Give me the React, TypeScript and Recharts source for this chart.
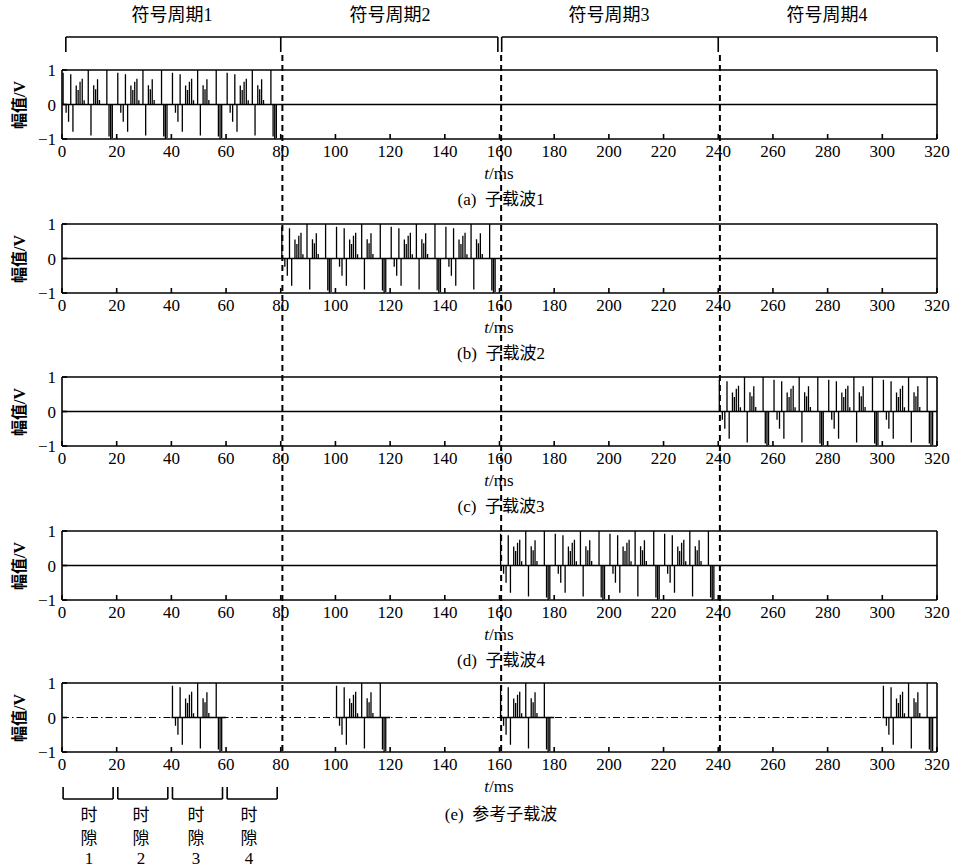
import React from "react"
import { LineChart, Line, XAxis, YAxis, ReferenceLine } from "recharts"

// one 20 ms slot of the subcarrier waveform (offset in ms, amplitude in V)
const PATTERN_OFFSETS = [0.4, 1.5, 2.4, 3.2, 4.0, 5.2, 5.9, 6.6, 7.4, 8.1, 9.6, 10.6, 11.6, 12.3, 13.0, 13.7, 16.4, 17.2, 17.8, 18.4]
const PATTERN_VALUES = [0.92, -0.24, -0.5, 0.88, -0.79, 0.55, 0.42, 0.66, 0.75, 0.12, 1, -0.9, 0.56, 0.44, 0.73, 0.13, 1, -0.93, -1, -0.97]
const SLOT_MS = 20

// slot start times (ms) where each subcarrier is active
const SUBCARRIER_SLOTS = [
  [0, 20, 40, 60],
  [80, 100, 120, 140],
  [240, 260, 280, 300],
  [160, 180, 200, 220],
]
const REFERENCE_SLOTS = [40, 100, 160, 300]

const CAPTIONS = ["(a)  子载波1", "(b)  子载波2", "(c)  子载波3", "(d)  子载波4", "(e)  参考子载波"]
const PERIOD_LABELS = ["符号周期1", "符号周期2", "符号周期3", "符号周期4"]
const SLOT_LABELS = ["1", "2", "3", "4"]

const X_TICKS = [0, 20, 40, 60, 80, 100, 120, 140, 160, 180, 200, 220, 240, 260, 280, 300, 320]
const Y_TICKS = [-1, 0, 1]
const PERIOD_BOUNDS = [80, 160, 240]

const SERIF = "'Liberation Serif', 'Noto Sans CJK SC', serif"
const PLOT_TOPS = [70, 224, 377, 531, 683]
const PLOT_H = 69

type Pt = { t: number; v: number | null }

function buildSignal(slots: number[], continuous: boolean): Pt[] {
  const pts: Pt[] = []
  if (continuous) pts.push({ t: 0, v: 0 })
  slots.forEach((s, i) => {
    if (!continuous && i > 0) pts.push({ t: s - 0.01, v: null })
    if (!continuous) pts.push({ t: s, v: 0 })
    PATTERN_OFFSETS.forEach((o, k) => {
      const t = s + o
      pts.push({ t, v: 0 }, { t, v: PATTERN_VALUES[k] }, { t, v: 0 })
    })
    if (!continuous) pts.push({ t: s + SLOT_MS, v: 0 })
  })
  if (continuous) pts.push({ t: 320, v: 0 })
  return pts
}

const fmtY = (v: number) => (v < 0 ? `−${-v}` : `${v}`)

function Subplot({ data, top, dashedZero }: { data: Pt[]; top: number; dashedZero: boolean }) {
  return (
    <div style={{ position: "absolute", left: 0, top: top - 10 }}>
      <LineChart width={954} height={10 + PLOT_H + 30} data={data} margin={{ top: 9, right: 16, bottom: 0, left: 0 }}>
        <XAxis
          xAxisId="b"
          dataKey="t"
          type="number"
          domain={[0, 320]}
          ticks={X_TICKS}
          interval={0}
          height={30}
          tickSize={-5}
          tickMargin={11}
          stroke="#000"
          strokeWidth={1.6}
          tick={{ fill: "#000", fontSize: 17, fontFamily: SERIF }}
          allowDataOverflow
        />
        <XAxis
          xAxisId="t"
          orientation="top"
          dataKey="t"
          type="number"
          domain={[0, 320]}
          ticks={X_TICKS}
          interval={0}
          height={1}
          tick={false}
          tickSize={-5}
          stroke="#000"
          strokeWidth={1.6}
        />
        <YAxis
          yAxisId="l"
          type="number"
          domain={[-1, 1]}
          ticks={Y_TICKS}
          interval={0}
          width={62}
          tickSize={-5}
          tickMargin={11}
          tickFormatter={fmtY}
          stroke="#000"
          strokeWidth={1.6}
          tick={{ fill: "#000", fontSize: 17, fontFamily: SERIF }}
        />
        <YAxis
          yAxisId="r"
          orientation="right"
          type="number"
          domain={[-1, 1]}
          ticks={Y_TICKS}
          interval={0}
          width={1}
          tick={false}
          tickSize={-5}
          stroke="#000"
          strokeWidth={1.6}
        />
        {dashedZero && (
          <ReferenceLine xAxisId="b" yAxisId="l" y={0} stroke="#000" strokeWidth={1.2} strokeDasharray="7 3 1.5 3" />
        )}
        <Line
          xAxisId="b"
          yAxisId="l"
          dataKey="v"
          type="linear"
          stroke="#000"
          strokeWidth={1.3}
          dot={false}
          activeDot={false}
          connectNulls={false}
          isAnimationActive={false}
        />
        {/* keep the top / right axes tied to a (hidden) series so they render */}
        <Line xAxisId="t" yAxisId="r" dataKey="v" stroke="none" dot={false} activeDot={false} isAnimationActive={false} />
      </LineChart>
    </div>
  )
}

const OVERLAY_DOMAIN = [
  { t: 0, y: 0 },
  { t: 320, y: 867 },
]

function Overlay() {
  const solid = { stroke: "#000", strokeWidth: 1.6 }
  const bracketY = 37
  return (
    <div style={{ position: "absolute", left: 0, top: 0, pointerEvents: "none" }}>
      <LineChart width={954} height={867} data={OVERLAY_DOMAIN} margin={{ top: 0, right: 17, bottom: 0, left: 62 }}>
        <XAxis dataKey="t" type="number" domain={[0, 320]} hide />
        <YAxis dataKey="y" type="number" domain={[0, 867]} reversed hide />
        {/* symbol period brackets */}
        <ReferenceLine segment={[{ x: 1.4, y: bracketY }, { x: 159.4, y: bracketY }]} {...solid} />
        <ReferenceLine segment={[{ x: 160.8, y: bracketY }, { x: 320, y: bracketY }]} {...solid} />
        {[1.4, 80, 159.4, 160.8, 240, 320].map((x) => (
          <ReferenceLine key={`bt${x}`} segment={[{ x, y: bracketY }, { x, y: 52 }]} {...solid} />
        ))}
        {PERIOD_BOUNDS.map((x) => (
          <ReferenceLine
            key={`d${x}`}
            segment={[{ x: x + 0.6, y: 55 }, { x: x + 0.6, y: 752 }]}
            stroke="#000"
            strokeWidth={2}
            strokeDasharray="6 4"
          />
        ))}
        {/* time slot brackets */}
        {[0, 20, 40, 60].map((s) => (
          <React.Fragment key={`s${s}`}>
            <ReferenceLine segment={[{ x: s + 0.4, y: 787 }, { x: s + 0.4, y: 799 }]} {...solid} />
            <ReferenceLine segment={[{ x: s + 0.4, y: 799 }, { x: s + 18.7, y: 799 }]} {...solid} />
            <ReferenceLine segment={[{ x: s + 18.7, y: 787 }, { x: s + 18.7, y: 799 }]} {...solid} />
          </React.Fragment>
        ))}
      </LineChart>
    </div>
  )
}

const textBase: React.CSSProperties = {
  position: "absolute",
  fontFamily: SERIF,
  color: "#000",
  whiteSpace: "pre",
  lineHeight: 1,
  transform: "translate(-50%, -50%)",
}

export default function App() {
  const periodCenters = [172, 390, 609, 827]
  const slotCenters = [89, 141, 196, 249]
  return (
    <div style={{ position: "absolute", left: 0, top: 0, width: 954, height: 867, background: "#fff", overflow: "hidden" }}>
      {SUBCARRIER_SLOTS.map((slots, i) => (
        <Subplot key={i} data={buildSignal(slots, true)} top={PLOT_TOPS[i]} dashedZero={false} />
      ))}
      <Subplot data={buildSignal(REFERENCE_SLOTS, false)} top={PLOT_TOPS[4]} dashedZero />

      {PERIOD_LABELS.map((label, i) => (
        <div key={label} style={{ ...textBase, left: periodCenters[i], top: 15, fontSize: 18 }}>
          {label}
        </div>
      ))}

      {PLOT_TOPS.map((top, i) => (
        <React.Fragment key={`lab${i}`}>
          <div
            style={{
              ...textBase,
              left: 20,
              top: top + PLOT_H / 2,
              fontSize: 16,
              fontWeight: 700,
              transform: "translate(-50%, -50%) rotate(-90deg)",
            }}
          >
            幅值/V
          </div>
          <div style={{ ...textBase, left: 499, top: top + PLOT_H + 34, fontSize: 17 }}>
            <i>t</i>/ms
          </div>
          <div style={{ ...textBase, left: 501, top: top + PLOT_H + (i === 4 ? 62 : 60), fontSize: 17 }}>
            {CAPTIONS[i]}
          </div>
        </React.Fragment>
      ))}

      {SLOT_LABELS.map((n, i) => (
        <React.Fragment key={`sl${n}`}>
          <div style={{ ...textBase, left: slotCenters[i], top: 815, fontSize: 17 }}>时</div>
          <div style={{ ...textBase, left: slotCenters[i], top: 838, fontSize: 17 }}>隙</div>
          <div style={{ ...textBase, left: slotCenters[i], top: 858, fontSize: 17 }}>{n}</div>
        </React.Fragment>
      ))}

      <Overlay />
    </div>
  )
}
